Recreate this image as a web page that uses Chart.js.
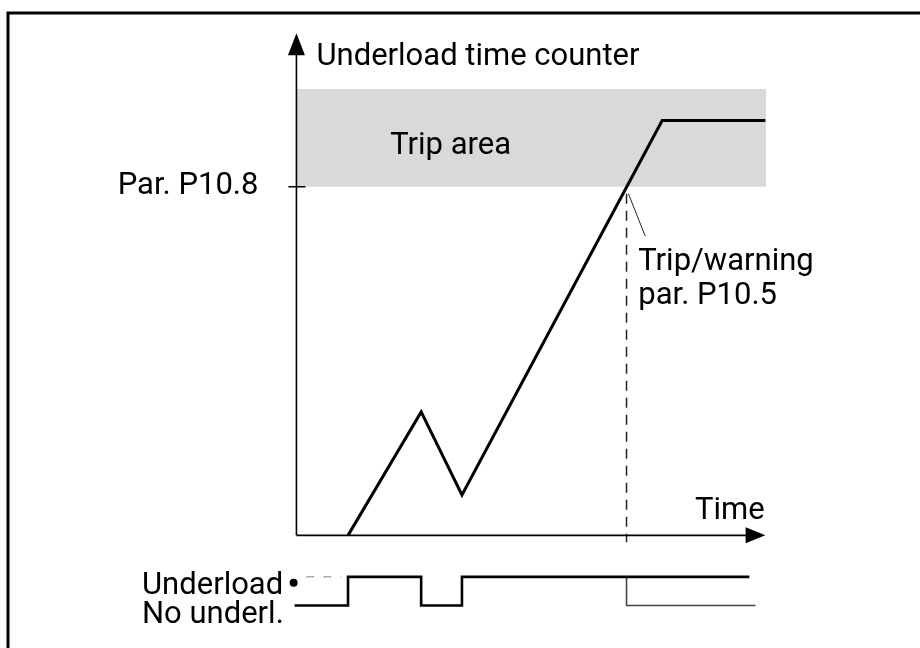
<!DOCTYPE html>
<html>
<head>
<meta charset="utf-8">
<script src="https://cdn.jsdelivr.net/npm/chart.js@4"></script>
<style>
  body { margin: 0; background: #fff; }
  #wrap { width: 920px; height: 648px; }
</style>
</head>
<body>
<div id="wrap"><canvas id="chart" width="920" height="648"></canvas></div>
<script>
// Underload counter (time units, counter units where 1 = P10.8 trip limit)
const counterPoints = [
  { x: 1.10, y: 0 },
  { x: 2.66, y: 0.354 },
  { x: 3.53, y: 0.116 },
  { x: 7.80, y: 1.19 },
  { x: 10.0, y: 1.19 }
];
const tripLimit = 1.0;
const tripAreaTop = 1.28;
const tripAreaPoints = [{ x: 0, y: tripAreaTop }, { x: 10.02, y: tripAreaTop }];
const tripTime = 7.04;

// underload signal: 1 = underload, 0 = no underload
const signalPoints = [
  { x: -0.04, y: 0 },
  { x: 1.10, y: 1 },
  { x: 2.66, y: 0 },
  { x: 3.53, y: 1 },
  { x: 9.66, y: 1 }
];
const signalTripBranch = [{ x: tripTime, y: 1 }, { x: tripTime, y: 0 }, { x: 9.79, y: 0 }];
const signalUnknown = [{ x: 0.21, y: 1 }, { x: 0.95, y: 1 }];
const signalDot = [{ x: -0.06, y: 0.79 }];

const tripMarker = [{ x: tripTime, y: 0.98 }, { x: tripTime, y: -0.02 }];
const leaderLine = [{ x: 7.08, y: 0.98 }, { x: 7.44, y: 0.858 }];

const labels = {
  yTitle: "Underload time counter",
  xTitle: "Time",
  limit: "Par. P10.8",
  area: "Trip area",
  trip1: "Trip/warning",
  trip2: "par. P10.5",
  on: "Underload",
  off: "No underl."
};

const FONT = "31px Roboto";

const diagram = {
  id: "diagram",
  afterDatasetsDraw(c) {
    const ctx = c.ctx;
    const x = c.scales.x, y = c.scales.y, s = c.scales.ySig;
    const x0 = x.getPixelForValue(0), y0 = y.getPixelForValue(0);
    ctx.save();
    ctx.strokeStyle = "#000";
    ctx.fillStyle = "#000";

    // frame
    ctx.lineWidth = 3;
    ctx.beginPath();
    ctx.moveTo(8, 648);
    ctx.lineTo(8, 13);
    ctx.lineTo(920, 13);
    ctx.stroke();

    // axes
    ctx.lineWidth = 1.6;
    ctx.beginPath();
    ctx.moveTo(x0, y0);
    ctx.lineTo(x0, y.getPixelForValue(1.38));
    ctx.moveTo(x0, y0);
    ctx.lineTo(x.getPixelForValue(9.6), y0);
    // limit tick
    const yl = y.getPixelForValue(tripLimit);
    ctx.moveTo(x0 - 8, yl);
    ctx.lineTo(x0 + 9, yl);
    ctx.stroke();

    // arrow heads
    const yTip = y.getPixelForValue(1.44), yBase = y.getPixelForValue(1.377);
    ctx.beginPath();
    ctx.moveTo(x0, yTip);
    ctx.lineTo(x0 - 8.5, yBase);
    ctx.lineTo(x0 + 8.5, yBase);
    ctx.closePath();
    ctx.fill();
    const xTip = x.getPixelForValue(10.0), xBase = x.getPixelForValue(9.58);
    ctx.beginPath();
    ctx.moveTo(xTip, y0);
    ctx.lineTo(xBase, y0 - 8);
    ctx.lineTo(xBase, y0 + 8);
    ctx.closePath();
    ctx.fill();

    // texts
    ctx.font = FONT;
    ctx.textBaseline = "alphabetic";
    ctx.textAlign = "left";
    ctx.fillText(labels.yTitle, x0 + 20, y.getPixelForValue(1.35));
    ctx.fillText(labels.area, x.getPixelForValue(2.0), y.getPixelForValue(1.093));
    ctx.fillText(labels.trip1, x.getPixelForValue(7.29), y.getPixelForValue(0.762));
    ctx.fillText(labels.trip2, x.getPixelForValue(7.29), y.getPixelForValue(0.663));
    ctx.fillText(labels.xTitle, x.getPixelForValue(8.5), y.getPixelForValue(0.046));
    ctx.fillText(labels.on, 142, s.getPixelForValue(0.41));
    ctx.fillText(labels.off, 142, s.getPixelForValue(-0.62));
    ctx.textAlign = "right";
    ctx.fillText(labels.limit, x0 - 38, y.getPixelForValue(0.98));
    ctx.restore();
  }
};

const ctx = document.getElementById("chart").getContext("2d");
const chart = new Chart(ctx, {
  type: "scatter",
  data: {
    datasets: [
      {
        data: tripAreaPoints,
        showLine: true,
        borderWidth: 0,
        borderColor: "rgba(0,0,0,0)",
        backgroundColor: "#d9d9d9",
        pointRadius: 0,
        fill: { value: tripLimit },
        order: 5
      },
      {
        data: tripMarker,
        showLine: true,
        borderColor: "#222",
        borderWidth: 1.5,
        borderDash: [10, 7],
        pointRadius: 0
      },
      {
        data: leaderLine,
        showLine: true,
        borderColor: "#222",
        borderWidth: 1,
        pointRadius: 0
      },
      {
        data: counterPoints,
        showLine: true,
        borderColor: "#000",
        borderWidth: 3,
        pointRadius: 0,
        tension: 0
      },
      {
        data: signalPoints,
        yAxisID: "ySig",
        showLine: true,
        stepped: true,
        borderColor: "#000",
        borderWidth: 2.6,
        pointRadius: 0
      },
      {
        data: signalTripBranch,
        yAxisID: "ySig",
        showLine: true,
        borderColor: "#444",
        borderWidth: 1.6,
        pointRadius: 0
      },
      {
        data: signalUnknown,
        yAxisID: "ySig",
        showLine: true,
        borderColor: "#aaa",
        borderWidth: 1.5,
        borderDash: [8, 9],
        pointRadius: 0
      },
      {
        data: signalDot,
        yAxisID: "ySig",
        pointRadius: 4,
        pointBackgroundColor: "#000",
        pointBorderWidth: 0
      }
    ]
  },
  options: {
    responsive: false,
    animation: false,
    devicePixelRatio: 1,
    layout: { padding: 0 },
    plugins: { legend: { display: false }, tooltip: { enabled: false } },
    scales: {
      x: { type: "linear", display: false, min: -6.2368, max: 13.2135 },
      y: { type: "linear", display: false, min: -0.3116, max: 1.5241 },
      ySig: { type: "linear", display: false, min: -1.3448, max: 21.0 }
    }
  },
  plugins: [diagram]
});
</script>
</body>
</html>
